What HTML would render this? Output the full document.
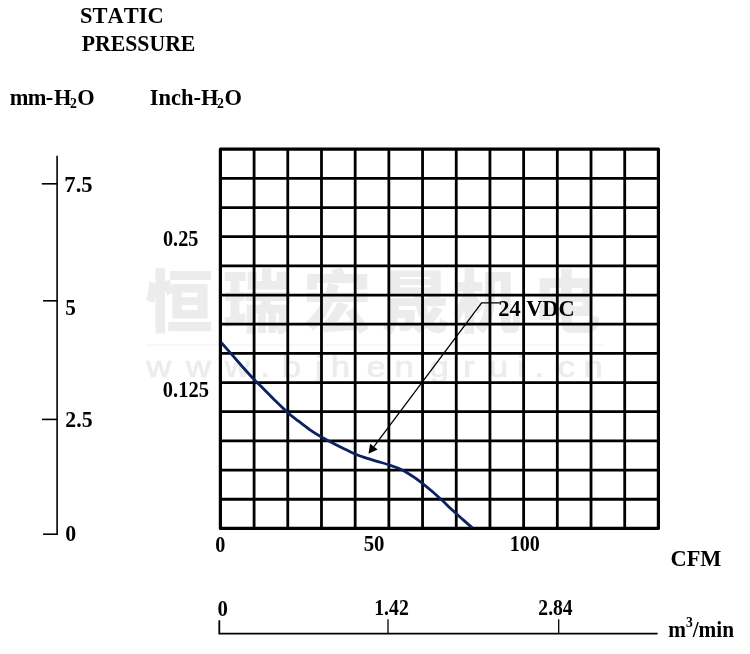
<!DOCTYPE html>
<html lang="en">
<head>
<meta charset="utf-8">
<title>Static Pressure Chart</title>
<style>
html,body{margin:0;padding:0;background:#fff;}
body{width:750px;height:654px;overflow:hidden;}
svg{display:block;}
text{font-family:"Liberation Serif","Times New Roman",serif;font-weight:bold;fill:#000;font-kerning:none;}
.wm{font-family:"Noto Sans CJK SC","WenQuanYi Zen Hei",sans-serif;font-weight:900;fill:#ececec;font-size:68px;}
.wu{font-family:"Liberation Sans","DejaVu Sans",sans-serif;font-weight:normal;fill:#ececec;stroke:#ececec;stroke-width:0.7px;font-size:30px;}
</style>
</head>
<body>
<svg width="750" height="654" viewBox="0 0 750 654">
<rect width="750" height="654" fill="#fff"/>

<!-- watermark -->
<g>
<text class="wm" y="326.9" x="145.2 222.6 303.2 381.2 452.6 532.8">恒瑞宏晟机电</text>
<line x1="146" y1="345" x2="603" y2="345" stroke="#f0f0f0" stroke-width="1"/>
<text class="wu" transform="translate(146.2,377.4) scale(1.16,1)" x="0.0 34.1 67.8 98.5 116.8 145.6 159.2 189.9 214.1 244.3 273.4 295.4 319.9 334.8 354.7 376.9">www.bjhengrui.cn</text>
</g>

<!-- left scale -->
<g stroke="#000" stroke-width="1.6" fill="none">
<path d="M57.1,155.7 V535.1"/>
<path d="M41.8,183.8 H57.1"/>
<path d="M43.1,300.8 H57.1"/>
<path d="M42,419.4 H57.1"/>
<path d="M43.1,534.2 H57.9"/>
</g>

<!-- grid -->
<g stroke="#000" stroke-width="2.8" fill="none" stroke-linecap="butt">
<line x1="254.09" y1="149.2" x2="254.09" y2="528.4"/>
<line x1="287.78" y1="149.2" x2="287.78" y2="528.4"/>
<line x1="321.48" y1="149.2" x2="321.48" y2="528.4"/>
<line x1="355.17" y1="149.2" x2="355.17" y2="528.4"/>
<line x1="388.86" y1="149.2" x2="388.86" y2="528.4"/>
<line x1="422.55" y1="149.2" x2="422.55" y2="528.4"/>
<line x1="456.25" y1="149.2" x2="456.25" y2="528.4"/>
<line x1="489.94" y1="149.2" x2="489.94" y2="528.4"/>
<line x1="523.63" y1="149.2" x2="523.63" y2="528.4"/>
<line x1="557.32" y1="149.2" x2="557.32" y2="528.4"/>
<line x1="591.02" y1="149.2" x2="591.02" y2="528.4"/>
<line x1="624.71" y1="149.2" x2="624.71" y2="528.4"/>
<line x1="220.4" y1="178.37" x2="658.4" y2="178.37"/>
<line x1="220.4" y1="207.54" x2="658.4" y2="207.54"/>
<line x1="220.4" y1="236.71" x2="658.4" y2="236.71"/>
<line x1="220.4" y1="265.88" x2="658.4" y2="265.88"/>
<line x1="220.4" y1="295.05" x2="658.4" y2="295.05"/>
<line x1="220.4" y1="324.22" x2="658.4" y2="324.22"/>
<line x1="220.4" y1="353.38" x2="658.4" y2="353.38"/>
<line x1="220.4" y1="382.55" x2="658.4" y2="382.55"/>
<line x1="220.4" y1="411.72" x2="658.4" y2="411.72"/>
<line x1="220.4" y1="440.89" x2="658.4" y2="440.89"/>
<line x1="220.4" y1="470.06" x2="658.4" y2="470.06"/>
<line x1="220.4" y1="499.23" x2="658.4" y2="499.23"/>
</g>
<rect x="220.4" y="149.2" width="438.0" height="379.2" fill="none" stroke="#000" stroke-width="3.2" stroke-linejoin="round"/>

<!-- curve -->
<path d="M221.4,342.7 C223.0,344.5 227.7,349.8 231.1,353.7 C234.5,357.6 238.1,361.8 241.8,366.0 C245.5,370.2 249.9,375.1 253.5,378.9 C257.1,382.6 259.6,384.9 263.2,388.5 C266.8,392.1 270.9,396.5 275.0,400.5 C279.1,404.5 283.9,409.2 287.8,412.7 C291.7,416.1 295.0,418.4 298.6,421.2 C302.2,424.0 305.6,426.7 309.3,429.3 C313.0,431.9 317.4,434.7 321.0,436.8 C324.6,438.9 326.9,440.1 330.7,442.1 C334.4,444.1 339.4,446.6 343.5,448.6 C347.6,450.6 351.7,452.6 355.5,454.2 C359.3,455.8 362.8,456.9 366.4,458.1 C370.0,459.3 373.5,460.2 377.1,461.3 C380.7,462.4 384.2,463.3 387.8,464.5 C391.4,465.7 394.9,466.7 398.5,468.3 C402.1,469.9 405.8,471.9 409.5,474.2 C413.2,476.4 416.9,479.1 420.5,481.8 C424.1,484.6 427.8,487.6 431.4,490.7 C435.0,493.8 438.5,497.0 442.1,500.3 C445.7,503.6 449.2,507.2 452.8,510.5 C456.4,513.8 460.3,517.2 463.5,520.1 C466.7,523.0 470.7,526.4 472.1,527.6" fill="none" stroke="#0a2162" stroke-width="2.8" stroke-linecap="butt"/>

<!-- leader -->
<g stroke="#000" stroke-width="1.3" fill="none">
<path d="M499.7,302.8 H481.6 L373.9,446.6"/>
</g>
<path d="M368.5,453.8 L377.7,449.4 L370.1,443.8 Z" fill="#000"/>

<!-- bottom scale -->
<g stroke="#000" fill="none">
<path d="M219.3,620.3 V633.7 H657.6" stroke-width="1.8" stroke-linejoin="miter"/>
<path d="M388,619.3 V633.7" stroke-width="1.3"/>
<path d="M558.7,619.3 V633.7" stroke-width="1.3"/>
</g>

<!-- labels -->
<text transform="translate(80.12,23.30) scale(1.0203,1.08)" font-size="22">STATIC</text>
<text transform="translate(81.64,50.80) scale(0.9905,1.08)" font-size="22">PRESSURE</text>
<text transform="translate(9.29,104.80) scale(1.0186,1.08)" font-size="22"><tspan dx="0.5 -0.7 -0.6 0.8">mm-H</tspan><tspan font-size="13.5" dy="3.1" dx="-1.4">2</tspan><tspan dy="-3.1" dx="0.4">O</tspan></text>
<text transform="translate(149.83,104.80) scale(1.0223,1.08)" font-size="22">Inch-H<tspan font-size="13.5" dy="3.1" dx="-1.4">2</tspan><tspan dy="-3.1" dx="0.4">O</tspan></text>
<text transform="translate(64.37,191.70) scale(1.0276,1.08)" font-size="22">7.5</text>
<text transform="translate(65.35,314.60) scale(0.9600,1.08)" font-size="22">5</text>
<text transform="translate(65.32,426.70) scale(0.9903,1.08)" font-size="22">2.5</text>
<text transform="translate(65.23,540.50) scale(0.9962,1.08)" font-size="22">0</text>
<text transform="translate(162.94,246.20) scale(0.9644,1.08)" font-size="21">0.25</text>
<text transform="translate(162.84,397.20) scale(0.9757,1.08)" font-size="21">0.125</text>
<text transform="translate(498.26,315.60) scale(1.0165,1.08)" font-size="22">24 VDC</text>
<text transform="translate(215.28,551.60) scale(0.9637,1.08)" font-size="21">0</text>
<text transform="translate(363.65,551.30) scale(0.9927,1.08)" font-size="21">50</text>
<text transform="translate(509.81,551.40) scale(0.9556,1.08)" font-size="21">100</text>
<text transform="translate(670.55,565.70) scale(1.0171,1.08)" font-size="22">CFM</text>
<text transform="translate(217.52,615.60) scale(0.9896,1.08)" font-size="21">0</text>
<text transform="translate(374.24,615.30) scale(0.9420,1.08)" font-size="21">1.42</text>
<text transform="translate(538.35,615.30) scale(0.9334,1.08)" font-size="21">2.84</text>
<text transform="translate(668.15,636.60) scale(0.9688,1.08)" font-size="22">m<tspan font-size="14" dy="-8.8">3</tspan><tspan dy="8.8">/min</tspan></text>
</svg>
</body>
</html>
